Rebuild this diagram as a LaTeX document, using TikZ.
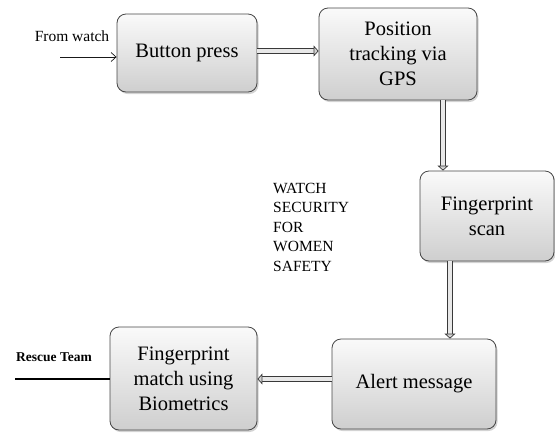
\documentclass[tikz,border=0pt]{standalone}
\usepackage{fontspec}
\setmainfont{Liberation Serif}
\usetikzlibrary{arrows.meta,shadows,calc}
\begin{document}
\begin{tikzpicture}[x=1pt,y=-1pt,
  blk/.style={draw=gray!55!black, line width=0.8pt, rounded corners=9pt,
    top color=gray!4, bottom color=gray!38, align=center,
    font=\fontsize{20.5}{25}\selectfont, inner sep=2pt,
    drop shadow={shadow xshift=1.5pt, shadow yshift=-2pt, opacity=0.35}},
  dbl/.style={draw=gray!45!black, line width=1pt, double=gray!18, double distance=3.6pt,
    -{Triangle[width=11pt,length=5pt,fill=gray!35,color=gray!45!black,line width=0.7pt]}},
  lbl/.style={font=\fontsize{15.5}{18}\selectfont}
]
\useasboundingbox (0,0) rectangle (555,432);
\node[blk, minimum width=140pt, minimum height=78pt] (bp) at (187,53) {Button press};
\node[blk, minimum width=158pt, minimum height=92pt] (pos) at (398,54) {Position\\tracking via\\GPS};
\node[blk, minimum width=134pt, minimum height=90pt] (fs) at (487,216) {Fingerprint\\scan};
\node[blk, minimum width=164pt, minimum height=90pt] (al) at (414,384) {Alert message};
\node[blk, minimum width=147pt, minimum height=103pt] (fm) at (183.5,378.5) {Fingerprint\\match using\\Biometrics};

\node[lbl] (fw) at (72,36) {From watch};
\node[font=\bfseries\fontsize{13.5}{16}\selectfont] (rt) at (54,357) {Rescue Team};
\node[font=\fontsize{15.5}{19.5}\selectfont, align=left, anchor=north west, inner sep=0pt] (title) at (273,183)
  {WATCH\\SECURITY\\FOR\\WOMEN\\SAFETY};

\coordinate (fws) at (60,57);
\coordinate (rts) at (15,379);
\coordinate (a1) at (257,51);
\coordinate (a2) at (443,100);
\coordinate (a3) at (450,261);
\coordinate (a4) at (332,379);

\draw[gray!20!black, line width=0.7pt, -{Straight Barb[length=5pt,width=9pt]}] (fws) -- (fws -| bp.west);
\draw[dbl] (a1 -| bp.east) -- (a1 -| pos.west);
\draw[dbl] (a2 |- pos.south) -- (a2 |- fs.north);
\draw[dbl] (a3 |- fs.south) -- (a3 |- al.north);
\draw[dbl] (a4 -| al.west) -- (a4 -| fm.east);
\draw[black, line width=1.6pt] (rts) -- (rts -| fm.west);
\end{tikzpicture}
\end{document}
